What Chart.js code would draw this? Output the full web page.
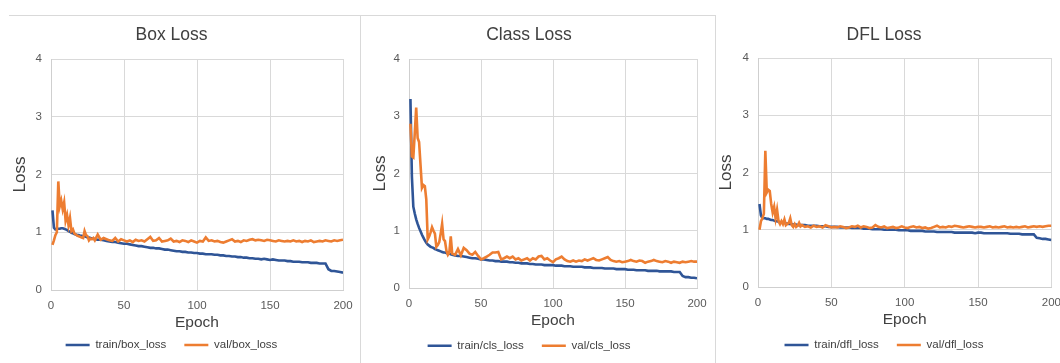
<!DOCTYPE html>
<html>
<head>
<meta charset="utf-8">
<script src="https://cdn.jsdelivr.net/npm/chart.js@4.4.1/dist/chart.umd.min.js"></script>
<style>
  html, body { margin: 0; padding: 0; background: #fff; overflow: hidden; }
  body { width: 1060px; height: 363px; position: relative; }
  .box { position: absolute; top: 15px; height: 348px; }
  .rule { position: absolute; background: #d9d9d9; }
</style>
</head>
<body>
<div class="rule" style="left:9px;top:15px;width:707px;height:1px"></div>
<div class="rule" style="left:360px;top:15px;width:1px;height:348px"></div>
<div class="rule" style="left:715px;top:15px;width:1px;height:348px"></div>
<div class="box" style="left:0;width:371px"><canvas id="boxChart"></canvas></div>
<div class="box" style="left:361px;width:356px"><canvas id="clsChart"></canvas></div>
<div class="box" style="left:716px;width:354px"><canvas id="dflChart"></canvas></div>

<script>
// Epochs sampled: every epoch up to 30, then every second epoch
const epochs = [
  1, 2, 3, 4, 5, 6, 7, 8, 9, 10, 11, 12, 13, 14, 15, 16, 17, 18, 19, 20,
  21, 22, 23, 24, 25, 26, 27, 28, 29, 30,
  32, 34, 36, 38, 40, 42, 44, 46, 48, 50,
  52, 54, 56, 58, 60, 62, 64, 66, 68, 70,
  72, 74, 76, 78, 80, 82, 84, 86, 88, 90,
  92, 94, 96, 98, 100, 102, 104, 106, 108, 110,
  112, 114, 116, 118, 120, 122, 124, 126, 128, 130,
  132, 134, 136, 138, 140, 142, 144, 146, 148, 150,
  152, 154, 156, 158, 160, 162, 164, 166, 168, 170,
  172, 174, 176, 178, 180, 182, 184, 186, 188, 190,
  192, 194, 196, 198, 200
];

const yTicks = [0, 1, 2, 3, 4];
const xTicks = [0, 50, 100, 150, 200];

const boxTrain = [
  1.38, 1.08, 1.05, 1.06, 1.06, 1.06, 1.07, 1.07, 1.06, 1.05, 1.04, 1.02, 1.01, 0.99, 0.98, 0.97, 0.96, 0.95, 0.95, 0.94,
  0.94, 0.93, 0.93, 0.92, 0.91, 0.91, 0.90, 0.89, 0.89, 0.88,
  0.87, 0.87, 0.86, 0.85, 0.84, 0.83, 0.83, 0.82, 0.81, 0.80,
  0.80, 0.79, 0.78, 0.77, 0.76, 0.76, 0.75, 0.74, 0.73, 0.73,
  0.72, 0.72, 0.71, 0.70, 0.70, 0.69, 0.68, 0.67, 0.67, 0.66,
  0.66, 0.65, 0.65, 0.64, 0.64, 0.63, 0.63, 0.62, 0.62, 0.62,
  0.61, 0.61, 0.60, 0.60, 0.59, 0.59, 0.58, 0.58, 0.57, 0.57,
  0.56, 0.56, 0.55, 0.55, 0.54, 0.54, 0.53, 0.54, 0.53, 0.52,
  0.53, 0.52, 0.51, 0.51, 0.51, 0.50, 0.50, 0.49, 0.49, 0.49,
  0.48, 0.48, 0.48, 0.47, 0.47, 0.47, 0.46, 0.46, 0.46, 0.36,
  0.33, 0.33, 0.32, 0.31, 0.30
];
const boxVal = [
  0.78, 0.86, 0.95, 1.00, 1.88, 1.45, 1.55, 1.40, 1.52, 1.20, 1.30, 1.12, 1.25, 1.02, 1.05, 0.98, 0.96, 0.94, 0.93, 0.92,
  0.91, 0.90, 1.02, 0.95, 0.93, 0.86, 0.89, 0.88, 0.90, 0.86,
  0.96, 0.87, 0.90, 0.88, 0.86, 0.85, 0.90, 0.84, 0.88, 0.86,
  0.84, 0.86, 0.83, 0.87, 0.85, 0.86, 0.84, 0.88, 0.92, 0.85,
  0.86, 0.90, 0.84, 0.85, 0.86, 0.89, 0.84, 0.85, 0.83, 0.86,
  0.85, 0.83, 0.86, 0.84, 0.82, 0.85, 0.84, 0.91, 0.85, 0.86,
  0.84, 0.85, 0.83, 0.82, 0.84, 0.86, 0.88, 0.84, 0.85, 0.83,
  0.86, 0.85, 0.87, 0.88, 0.86, 0.87, 0.86, 0.85, 0.87, 0.86,
  0.85, 0.84, 0.86, 0.85, 0.84, 0.85, 0.84, 0.86, 0.84, 0.85,
  0.83, 0.85, 0.84, 0.86, 0.83, 0.84, 0.85, 0.84, 0.86, 0.85,
  0.84, 0.86, 0.85, 0.86, 0.87
];

const clsTrain = [
  3.30, 1.95, 1.42, 1.30, 1.20, 1.12, 1.05, 0.99, 0.93, 0.88, 0.83, 0.79, 0.76, 0.74, 0.72, 0.71, 0.70, 0.68, 0.67, 0.66,
  0.65, 0.64, 0.63, 0.62, 0.62, 0.61, 0.60, 0.60, 0.59, 0.58,
  0.57, 0.56, 0.56, 0.55, 0.54, 0.53, 0.52, 0.52, 0.51, 0.50,
  0.50, 0.49, 0.48, 0.48, 0.47, 0.47, 0.46, 0.46, 0.46, 0.45,
  0.45, 0.44, 0.44, 0.43, 0.43, 0.43, 0.42, 0.42, 0.41, 0.41,
  0.41, 0.40, 0.40, 0.40, 0.40, 0.39, 0.39, 0.39, 0.38, 0.38,
  0.38, 0.37, 0.37, 0.37, 0.37, 0.36, 0.36, 0.36, 0.35, 0.35,
  0.35, 0.35, 0.34, 0.34, 0.34, 0.34, 0.33, 0.33, 0.33, 0.33,
  0.32, 0.32, 0.32, 0.31, 0.31, 0.31, 0.31, 0.30, 0.30, 0.30,
  0.30, 0.29, 0.29, 0.29, 0.29, 0.29, 0.28, 0.28, 0.28, 0.21,
  0.19, 0.19, 0.18, 0.18, 0.17
];
const clsVal = [
  2.87, 2.30, 2.28, 2.70, 3.15, 2.62, 2.55, 2.15, 1.75, 1.80, 1.78, 1.55, 0.85, 0.90, 0.97, 1.06, 1.00, 0.95, 0.72, 0.75,
  0.80, 0.95, 1.12, 0.85, 0.82, 0.65, 0.58, 0.62, 0.90, 0.60,
  0.58, 0.68, 0.57, 0.70, 0.66, 0.60, 0.58, 0.63, 0.56, 0.50,
  0.52, 0.55, 0.58, 0.62, 0.62, 0.63, 0.50, 0.52, 0.55, 0.52,
  0.55, 0.50, 0.52, 0.48, 0.50, 0.52, 0.48, 0.52, 0.50, 0.55,
  0.56, 0.50, 0.52, 0.48, 0.45, 0.50, 0.52, 0.55, 0.50, 0.47,
  0.46, 0.48, 0.46, 0.48, 0.47, 0.50, 0.48, 0.50, 0.52, 0.49,
  0.48, 0.50, 0.52, 0.54, 0.49, 0.47, 0.46, 0.47, 0.45, 0.46,
  0.47, 0.49, 0.47, 0.46, 0.48, 0.47, 0.44, 0.46, 0.47, 0.49,
  0.47, 0.46, 0.45, 0.47, 0.46, 0.44, 0.46, 0.45, 0.44, 0.46,
  0.45, 0.46, 0.47, 0.46, 0.46
];

const dflTrain = [
  1.45, 1.25, 1.20, 1.20, 1.20, 1.19, 1.19, 1.18, 1.17, 1.17, 1.16, 1.15, 1.15, 1.14, 1.13, 1.13, 1.12, 1.12, 1.11, 1.11,
  1.10, 1.10, 1.10, 1.09, 1.09, 1.09, 1.08, 1.08, 1.08, 1.08,
  1.08, 1.07, 1.07, 1.07, 1.07, 1.06, 1.06, 1.06, 1.05, 1.05,
  1.05, 1.05, 1.04, 1.04, 1.04, 1.04, 1.03, 1.03, 1.03, 1.03,
  1.02, 1.02, 1.02, 1.01, 1.01, 1.01, 1.01, 1.00, 1.00, 1.00,
  1.00, 1.00, 0.99, 0.99, 0.99, 0.99, 0.98, 0.98, 0.98, 0.98,
  0.98, 0.97, 0.97, 0.97, 0.97, 0.96, 0.96, 0.96, 0.96, 0.96,
  0.96, 0.95, 0.95, 0.95, 0.95, 0.95, 0.95, 0.95, 0.94, 0.95,
  0.95, 0.94, 0.94, 0.94, 0.94, 0.94, 0.94, 0.94, 0.94, 0.94,
  0.93, 0.93, 0.93, 0.93, 0.92, 0.92, 0.92, 0.92, 0.92, 0.86,
  0.85, 0.84, 0.84, 0.83, 0.82
];
const dflVal = [
  1.00, 1.15, 1.20, 1.28, 2.38, 1.65, 1.70, 1.68, 1.45, 1.30, 1.40, 1.20, 1.35, 1.15, 1.10, 1.15, 1.10, 1.18, 1.08, 1.10,
  1.12, 1.20, 1.08, 1.05, 1.10, 1.05, 1.07, 1.12, 1.06, 1.08,
  1.05, 1.06, 1.04, 1.07, 1.05, 1.06, 1.04, 1.08, 1.06, 1.04,
  1.05, 1.04, 1.06, 1.05, 1.03, 1.04, 1.06, 1.05, 1.07, 1.04,
  1.06, 1.05, 1.03, 1.04, 1.08, 1.05, 1.04, 1.06, 1.03, 1.04,
  1.05, 1.03, 1.04, 1.06, 1.04, 1.03, 1.05, 1.06, 1.04, 1.05,
  1.03, 1.04, 1.02, 1.03, 1.05, 1.07, 1.04, 1.05, 1.04, 1.06,
  1.05, 1.07, 1.06, 1.05, 1.04, 1.05, 1.06, 1.05, 1.04, 1.05,
  1.05, 1.04, 1.05, 1.06, 1.04, 1.05, 1.04, 1.05, 1.06, 1.04,
  1.05, 1.04, 1.05, 1.04, 1.05, 1.06, 1.04, 1.05, 1.06, 1.05,
  1.06, 1.05, 1.06, 1.07, 1.07
];

const FONT = "'Liberation Sans', Arial, sans-serif";
const BLUE = "#2f5597";
const ORANGE = "#ed7d31";
const GRID = "#d9d9d9";

function points(values) {
  return epochs.map((e, i) => ({ x: e, y: values[i] }));
}

// layout numbers are canvas pixels: plot edges, legend centre, title centres
function makeChart(id, title, trainLabel, trainData, valLabel, valData, lay) {
  const H = 348;
  const legendH = 11.5 + 18 + 10;
  const legendTop = lay.legendCenter - 18 - 5.75;
  const xHeight = legendTop - lay.plotBottom;
  const padBottom = H - legendTop - legendH;

  new Chart(document.getElementById(id), {
    type: "line",
    data: {
      datasets: [
        { label: trainLabel, data: points(trainData), borderColor: BLUE, backgroundColor: BLUE, borderWidth: 2.6, order: 1 },
        { label: valLabel, data: points(valData), borderColor: ORANGE, backgroundColor: ORANGE, borderWidth: 2.6, order: 0 },
      ],
    },
    options: {
      responsive: true,
      maintainAspectRatio: false,
      animation: false,
      layout: { padding: { left: 0, right: lay.padRight, top: 0, bottom: padBottom } },
      elements: {
        line: { tension: 0 },
        point: { radius: 0 },
      },
      plugins: {
        tooltip: { enabled: false },
        title: {
          display: true,
          text: title,
          color: "#404040",
          font: { family: FONT, size: 17.5, weight: "normal" },
          padding: { top: 9.5, bottom: lay.plotTop - 9.5 - 21 },
        },
        legend: {
          position: "bottom",
          labels: {
            usePointStyle: true,
            pointStyle: "line",
            pointStyleWidth: 24,
            padding: 18,
            color: "#404040",
            font: { family: FONT, size: 11.5 },
            sort: (a, b) => a.datasetIndex - b.datasetIndex,
          },
        },
      },
      scales: {
        x: {
          type: "linear",
          min: xTicks[0],
          max: xTicks[xTicks.length - 1],
          afterBuildTicks: (s) => { s.ticks = xTicks.map((v) => ({ value: v })); },
          afterFit: (s) => { s.height = xHeight; },
          grid: { color: GRID, drawTicks: false },
          border: { color: "#cfcfcf" },
          ticks: { color: "#595959", padding: 9, font: { family: FONT, size: 11.5 } },
          title: {
            display: true,
            text: "Epoch",
            color: "#404040",
            font: { family: FONT, size: 15.5 },
            padding: { top: 0, bottom: xHeight + lay.plotBottom - lay.epochCenter - 9.3 },
          },
        },
        y: {
          min: yTicks[0],
          max: yTicks[yTicks.length - 1],
          afterBuildTicks: (s) => { s.ticks = yTicks.map((v) => ({ value: v })); },
          afterFit: (s) => { s.width = lay.plotLeft; },
          grid: { color: GRID, drawTicks: false },
          border: { color: "#cfcfcf" },
          ticks: { color: "#595959", padding: 9, font: { family: FONT, size: 11.5 } },
          title: {
            display: true,
            text: "Loss",
            color: "#404040",
            font: { family: FONT, size: 17 },
            padding: { top: lay.lossCenter - 10.2, bottom: 0 },
          },
        },
      },
    },
  });
}

makeChart("boxChart", "Box Loss", "train/box_loss", boxTrain, "val/box_loss", boxVal,
  { plotLeft: 51, padRight: 28, plotTop: 44, plotBottom: 275, legendCenter: 330, epochCenter: 308, lossCenter: 20 });
makeChart("clsChart", "Class Loss", "train/cls_loss", clsTrain, "val/cls_loss", clsVal,
  { plotLeft: 48, padRight: 20, plotTop: 44, plotBottom: 273, legendCenter: 330.7, epochCenter: 306, lossCenter: 19 });
makeChart("dflChart", "DFL Loss", "train/dfl_loss", dflTrain, "val/dfl_loss", dflVal,
  { plotLeft: 42, padRight: 18, plotTop: 43, plotBottom: 272, legendCenter: 330, epochCenter: 305, lossCenter: 10.7 });
</script>
</body>
</html>
